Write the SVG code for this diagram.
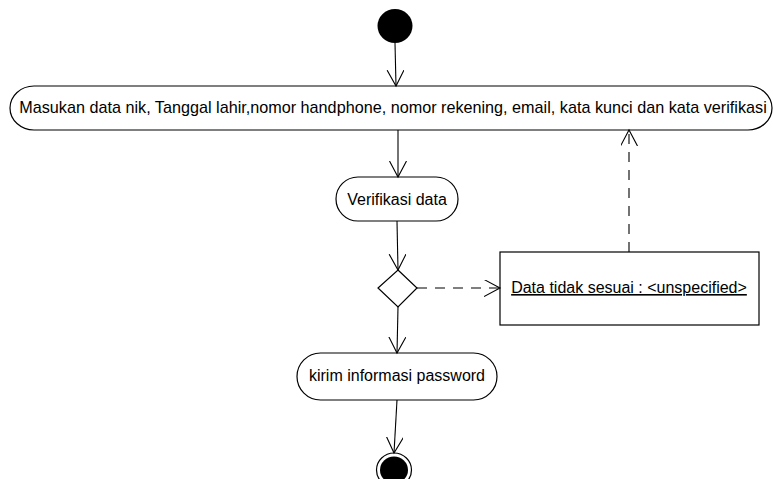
<svg xmlns="http://www.w3.org/2000/svg" width="773" height="479" viewBox="0 0 773 479">
<defs>
<style>
.node{fill:#fff;stroke:#000;stroke-width:1.2}
.lbl{font-family:"Liberation Sans",Arial,sans-serif;font-size:16px;fill:#000;text-anchor:middle}
.main{font-size:16.2px}
.edge{fill:none;stroke:#000;stroke-width:1.1}
.dash{stroke-dasharray:10,8}
</style>
<marker id="arr" markerWidth="20" markerHeight="20" refX="16" refY="8.5" orient="auto" markerUnits="userSpaceOnUse">
<path d="M0,0 L16,8.5 L0,17" fill="none" stroke="#000" stroke-width="1.1"/>
</marker>
</defs>
<rect width="773" height="479" fill="#fff"/>
<g id="start"><ellipse cx="395" cy="26" rx="17.5" ry="17" fill="#000"/></g>
<g id="masukan"><rect class="node" x="10" y="86" width="762" height="44" rx="24" ry="22"/><text class="lbl main" x="393" y="113">Masukan data nik, Tanggal lahir,nomor handphone, nomor rekening, email, kata kunci dan kata verifikasi</text></g>
<g id="verifikasi"><rect class="node" x="336" y="177" width="122" height="44" rx="22" ry="22"/><text class="lbl" x="397" y="205">Verifikasi data</text></g>
<g id="decision"><polygon class="node" points="398,270 417,288 398,307 378,288"/></g>
<g id="tidaksesuai"><rect class="node" x="500" y="252" width="259" height="73"/><text class="lbl" x="629" y="293" text-decoration="underline">Data tidak sesuai : &lt;unspecified&gt;</text></g>
<g id="kirim"><rect class="node" x="297" y="353" width="200" height="47" rx="23.5" ry="23.5"/><text class="lbl" x="397" y="381">kirim informasi password</text></g>
<g id="end"><ellipse cx="394" cy="470" rx="17.5" ry="17" fill="#fff" stroke="#000" stroke-width="1.2"/><ellipse cx="394" cy="470" rx="14" ry="13.5" fill="#000"/></g>
<g id="connectors">
<line class="edge" x1="395" y1="43" x2="396" y2="86" marker-end="url(#arr)"/>
<line class="edge" x1="398" y1="130" x2="398" y2="177" marker-end="url(#arr)"/>
<line class="edge" x1="397" y1="221" x2="398" y2="270" marker-end="url(#arr)"/>
<line class="edge dash" x1="417" y1="288" x2="500" y2="288" marker-end="url(#arr)"/>
<line class="edge dash" x1="629" y1="252" x2="629" y2="130" marker-end="url(#arr)"/>
<line class="edge" x1="398" y1="307" x2="397" y2="353" marker-end="url(#arr)"/>
<line class="edge" x1="397" y1="400" x2="394" y2="453" marker-end="url(#arr)"/>
</g>
</svg>
